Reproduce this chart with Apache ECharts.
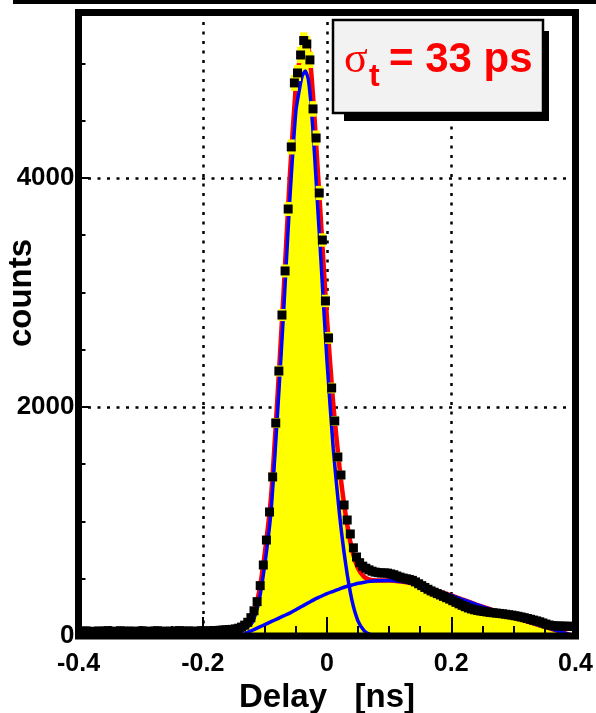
<!DOCTYPE html>
<html>
<head>
<meta charset="utf-8">
<script src="https://cdn.jsdelivr.net/npm/echarts@6/dist/echarts.min.js"></script>
<style>
html, body { margin: 0; padding: 0; background: #fff; }
#chart { width: 596px; height: 713px; }
</style>
</head>
<body>
<div id="chart"></div>
<script>
// histogram: 160 bins of 5 ps from -0.4 to 0.4 ns
const binLow = -0.4;
const binWidth = 0.005;
const counts = [
  38, 42, 45, 40, 36, 41, 44, 39, 43, 47,
  40, 38, 42, 46, 41, 39, 44, 40, 37, 43,
  45, 42, 38, 41, 44, 46, 40, 39, 43, 41,
  38, 44, 47, 42, 40, 45, 41, 39, 43, 46,
  44, 42, 45, 48, 47, 50, 52,
  54, 56, 58, 62, 68, 78, 95, 120, 160, 220, 300, 440, 620,
  838, 1083, 1389, 1860, 2314, 2803, 3188, 3729, 4271, 4830,
  4917, 5074, 5200, 5170, 5031, 4603, 4349, 3869, 3458, 2926,
  2603, 2166, 1878, 1563, 1406, 1144, 1013, 891,
  770, 690, 640, 610, 592, 578, 566, 558, 553, 550,
  551, 549, 542, 535, 524, 514, 506, 500, 494, 486,
  472, 456, 440, 424, 408, 394, 382, 370, 358, 346,
  334, 322, 308, 294, 281, 268, 256, 245, 236, 229,
  223, 218, 214, 210, 206, 203, 200, 197, 194, 190,
  186, 182, 177, 172, 166, 160, 153, 146, 139, 132,
  124, 114, 104, 96, 91, 88, 87, 86, 86, 85,
  84, 84
];

// fit curves
const fitX = [-0.40, -0.30, -0.20, -0.17, -0.16, -0.15, -0.14, -0.13, -0.12, -0.11,
  -0.10, -0.09, -0.08, -0.07, -0.06, -0.05, -0.045, -0.04, -0.035, -0.03,
  -0.025, -0.02, -0.015, -0.01, -0.005, 0, 0.01, 0.02, 0.03, 0.04,
  0.05, 0.06, 0.07, 0.08, 0.10, 0.12, 0.14, 0.16, 0.18, 0.20,
  0.22, 0.24, 0.26, 0.28, 0.30, 0.32, 0.34, 0.36, 0.38, 0.39, 0.40];
const fitTotal = [0, 0, 0, 2, 5, 15, 35, 95, 170, 365,
  730, 1220, 2060, 2990, 4000, 4820, 5000, 5150, 5210, 5150,
  4900, 4520, 4080, 3650, 3200, 2770, 2030, 1480, 1060, 760,
  590, 515, 490, 485, 485, 475, 455, 425, 390, 355,
  315, 275, 238, 200, 165, 130, 98, 65, 30, 12, 0];
const fitNarrow = [0, 0, 0, 2, 5, 15, 35, 70, 120, 290,
  630, 1095, 1910, 2815, 3800, 4590, 4755, 4890, 4935, 4860,
  4595, 4200, 3747, 3305, 2842, 2400, 1640, 1070, 630, 315,
  130, 45, 12, 2, 0, 0, 0, 0, 0, 0,
  0, 0, 0, 0, 0, 0, 0, 0, 0, 0, 0];
const fitWide = [null, null, null, null, null, null, 0, 25, 50, 75,
  100, 125, 150, 175, 200, 230, 245, 260, 275, 290,
  305, 320, 333, 345, 358, 370, 390, 410, 430, 445,
  460, 470, 478, 483, 485, 475, 455, 425, 390, 355,
  315, 275, 238, 200, 165, 130, 98, 65, 30, 12, 0];

const xTicks = [-0.4, -0.2, 0, 0.2, 0.4];
const yTicks = [0, 2000, 4000];

const histData = counts.map((c, i) => [binLow + binWidth * (i + 0.5), c]);
const pair = arr => fitX.map((x, i) => [x, arr[i]]);

const font = 'Liberation Sans, Arial, Helvetica, sans-serif';
const dotted = { color: '#000', width: 2.5, type: [3, 6.5] };

const chart = echarts.init(document.getElementById('chart'));
chart.setOption({
  animation: false,
  grid: { left: 78.5, top: 12.5, width: 497, height: 623.5, outerBoundsMode: 'none', containLabel: false },
  xAxis: [{
    type: 'value', min: xTicks[0], max: xTicks[xTicks.length - 1], interval: 0.2,
    axisLine: { show: false, onZero: false }, axisTick: { show: false }, axisLabel: { show: false },
    splitLine: { show: true, lineStyle: dotted }, z: 0
  }, {
    type: 'value', min: xTicks[0], max: xTicks[xTicks.length - 1], interval: 0.2,
    position: 'bottom',
    axisLine: { show: false, onZero: false },
    axisTick: { inside: true, length: 19, lineStyle: { color: '#000', width: 2 } },
    minorTick: { show: true, splitNumber: 4, length: 10, lineStyle: { color: '#000', width: 2 } },
    axisLabel: { color: '#000', fontSize: 25, fontWeight: 'bold', fontFamily: font, margin: 16,
      showMinLabel: true, showMaxLabel: true, hideOverlap: false },
    splitLine: { show: false },
    name: 'Delay   [ns]', nameLocation: 'middle', nameGap: 44,
    nameTextStyle: { color: '#000', fontSize: 33, fontWeight: 'bold', fontFamily: font },
    z: 10
  }],
  yAxis: [{
    type: 'value', min: 0, max: 5445, interval: 500, position: 'left',
    axisLine: { show: false, onZero: false },
    axisTick: { inside: true, length: 7, lineStyle: { color: '#000', width: 2 } },
    axisLabel: { show: false }, splitLine: { show: false }, z: 10
  }, {
    type: 'value', min: 0, max: 5445, interval: 2000, position: 'left', offset: 0,
    axisLine: { show: false, onZero: false },
    axisTick: { inside: true, length: 11, lineStyle: { color: '#000', width: 2 } },
    axisLabel: { color: '#000', fontSize: 26, fontWeight: 'bold', fontFamily: font, margin: 4,
      showMaxLabel: false, formatter: v => yTicks.includes(v) ? String(v) : '' },
    splitLine: { show: true, lineStyle: dotted }, z: 0
  }],
  series: [{
    type: 'line', data: pair(fitTotal), smooth: 0.2, symbol: 'none',
    lineStyle: { width: 0, opacity: 0 }, areaStyle: { color: '#ffff00', opacity: 1 }, z: 1
  }, {
    type: 'line', data: pair(fitTotal), smooth: 0.2, symbol: 'none',
    lineStyle: { color: '#ff0000', width: 4.5 }, z: 2
  }, {
    type: 'line', data: pair(fitNarrow), smooth: 0.2, symbol: 'none',
    lineStyle: { color: '#0000ff', width: 3.5 }, z: 3
  }, {
    type: 'line', data: pair(fitWide), smooth: 0.2, symbol: 'none',
    lineStyle: { color: '#0000ff', width: 3.5 }, z: 3
  }, {
    type: 'custom', data: histData, z: 4,
    renderItem: (params, api) => {
      const x = api.value(0), y = api.value(1), e = Math.sqrt(y);
      const top = api.coord([x, y + e]);
      const bot = api.coord([x, y - e]);
      return { type: 'rect', shape: { x: top[0] - 3.5, y: top[1], width: 7, height: bot[1] - top[1] },
        style: { fill: '#ffff00' } };
    }
  }, {
    type: 'scatter', data: histData, symbol: 'rect', symbolSize: 9,
    itemStyle: { color: '#000', opacity: 1 }, z: 5
  }],
  graphic: [
    { type: 'rect', shape: { x: 13, y: 0, width: 583, height: 4 }, style: { fill: '#000' }, z: 100 },
    { type: 'rect', shape: { x: 78.5, y: 12.5, width: 497, height: 623.5 },
      style: { fill: 'none', stroke: '#000', lineWidth: 7 }, z: 100 },
    { type: 'rect', shape: { x: 344, y: 31, width: 205, height: 90 }, style: { fill: '#000' }, z: 101 },
    { type: 'rect', shape: { x: 333, y: 20, width: 210, height: 93 },
      style: { fill: '#f2f2f2', stroke: '#000', lineWidth: 2.5 }, z: 102 },
    { type: 'text', x: 344, y: 60, z: 103,
      style: { text: 'σ', fill: '#ff0000', font: '44px Liberation Serif, serif', verticalAlign: 'middle' } },
    { type: 'text', x: 369, y: 77, z: 103,
      style: { text: 't', fill: '#ff0000', font: 'bold 32px ' + font, verticalAlign: 'middle' } },
    { type: 'text', x: 389, y: 60, z: 103,
      style: { text: '= 33 ps', fill: '#ff0000', font: 'bold 42px ' + font, verticalAlign: 'middle' } },
    { type: 'text', x: 22, y: 293, rotation: Math.PI / 2, z: 103,
      style: { text: 'counts', fill: '#000', font: 'bold 33px ' + font, align: 'center', verticalAlign: 'middle' } }
  ]
});
</script>
</body>
</html>
